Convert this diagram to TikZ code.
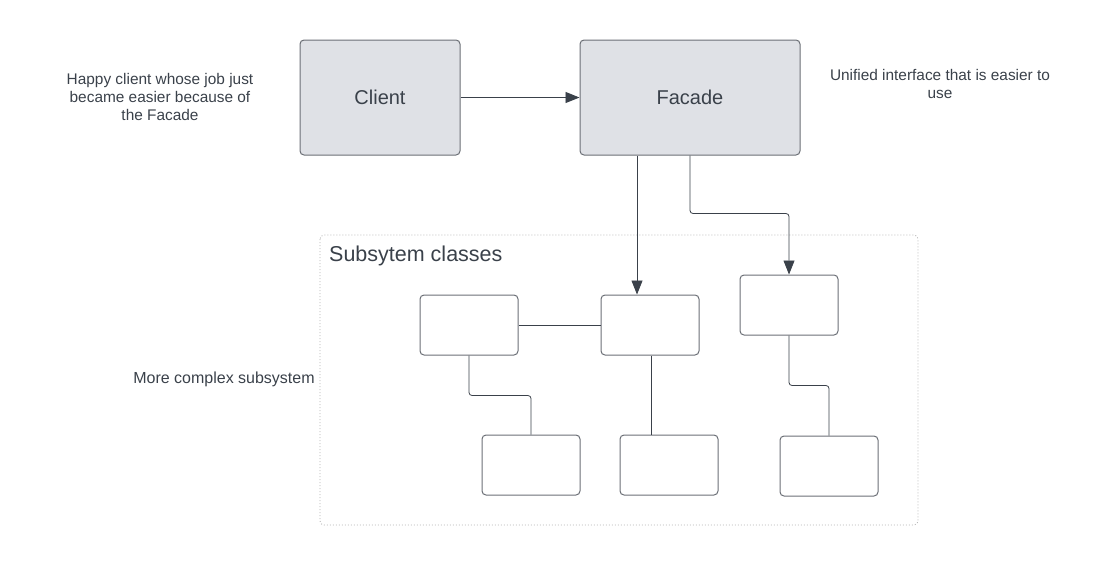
\documentclass[tikz,border=0pt]{standalone}
\usepackage{fontspec}
\setmainfont{Liberation Sans}
\usetikzlibrary{arrows.meta}
\definecolor{boxfill}{HTML}{DFE1E6}
\definecolor{boxline}{HTML}{6B6F76}
\definecolor{inkgray}{HTML}{3A414A}

\begin{document}
\begin{tikzpicture}[x=1pt,y=-1pt,
  cls/.style={draw=boxline,line width=1pt,rounded corners=4pt,minimum width=98pt,minimum height=60pt,inner sep=0pt},
  bigcls/.style={cls,fill=boxfill,minimum height=115pt,font=\fontsize{20}{24}\selectfont,text=inkgray},
  note/.style={font=\fontsize{15.4}{18}\selectfont,text=inkgray,align=center},
  link/.style={draw=inkgray,line width=0.8pt,rounded corners=3pt},
  arr/.style={link,-{Triangle[length=14pt,width=11pt]}}]
  \useasboundingbox (0,0) rectangle (1100,565);

  % client and facade
  \node[bigcls,minimum width=160pt] (client) at (380,97.5) {Client};
  \node[bigcls,minimum width=220pt] (facade) at (690,97.5) {Facade};
  \node[note] (happy) at (160,97) {Happy client whose job just\\became easier because of\\the Facade};
  \node[note] (unified) at (940,84) {Unified interface that is easier to\\use};

  % subsystem frame
  \draw[gray!60,line width=0.8pt,dash pattern=on 1pt off 2pt,rounded corners=4pt] (320,235) rectangle (918,525);
  \node[anchor=base west,inner sep=0pt,font=\fontsize{21.5}{25}\selectfont,text=inkgray] (frame) at (329,261) {Subsytem classes};
  \node[note,font=\fontsize{16}{20}\selectfont] (complex) at (224,379) {More complex subsystem};

  \node[cls] (a) at (469,325) {};
  \node[cls] (b) at (650,325) {};
  \node[cls] (c) at (789,305) {};
  \node[cls] (d) at (531,465) {};
  \node[cls] (e) at (669,465) {};
  \node[cls] (f) at (829,466) {};

  \coordinate (fx) at (637,0);
  \coordinate (bx) at (651,0);

  % connectors
  \draw[arr] (client.east) -- (facade.west);
  \draw[arr] (facade.south -| fx) -- (b.north -| fx);
  \draw[arr] (facade.south) -- ++(0,58) -| (c.north);
  \draw[link] (a.east) -- (b.west);
  \draw[link] (a.south) -- ++(0,40) -| (d.north);
  \draw[link] (b.south -| bx) -- (e.north -| bx);
  \draw[link] (c.south) -- ++(0,50) -| (f.north);
\end{tikzpicture}
\end{document}
